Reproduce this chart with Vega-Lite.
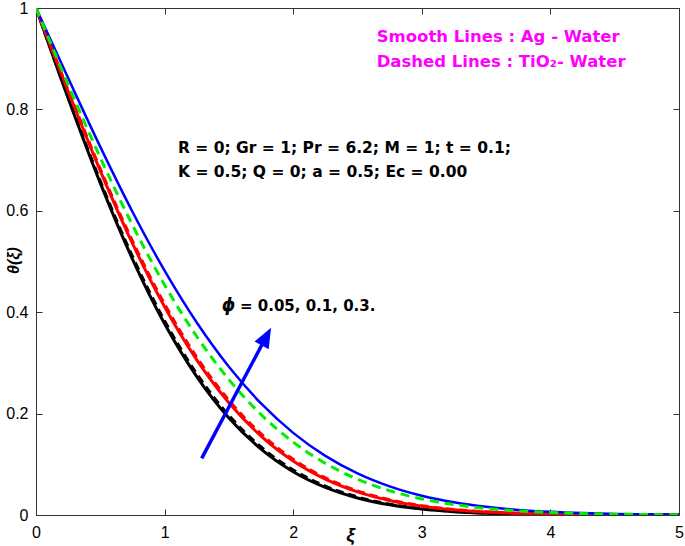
{
  "$schema": "https://vega.github.io/schema/vega-lite/v6.json",
  "width": 643,
  "height": 507,
  "autosize": "none",
  "padding": {"left": 36, "top": 8, "right": 6, "bottom": 31},
  "background": "white",
  "config": {
    "view": {"stroke": "#333333", "strokeWidth": 1},
    "axis": {
      "domainColor": "#333333",
      "domainWidth": 1,
      "tickColor": "#333333",
      "tickSize": -6,
      "grid": false,
      "labelFont": "Liberation Sans",
      "labelFontSize": 16,
      "labelColor": "#000000",
      "labelFlush": false,
      "labelOverlap": false
    }
  },
  "datasets": {
    "curves": [
      {"series":"bs","xi":0,"theta":1},{"series":"bs","xi":0.25,"theta":0.8221},{"series":"bs","xi":0.5,"theta":0.6546},{"series":"bs","xi":0.75,"theta":0.5049},{"series":"bs","xi":1,"theta":0.3772},{"series":"bs","xi":1.25,"theta":0.273},{"series":"bs","xi":1.5,"theta":0.1913},{"series":"bs","xi":1.75,"theta":0.1299},{"series":"bs","xi":2,"theta":0.0854},{"series":"bs","xi":2.25,"theta":0.0544},{"series":"bs","xi":2.5,"theta":0.0336},{"series":"bs","xi":2.75,"theta":0.0201},{"series":"bs","xi":3,"theta":0.0116},{"series":"bs","xi":3.25,"theta":0.0065},{"series":"bs","xi":3.5,"theta":0.0035},{"series":"bs","xi":3.75,"theta":0.0019},{"series":"bs","xi":4,"theta":0.0009},{"series":"bs","xi":4.5,"theta":0.0002},{"series":"bs","xi":5,"theta":0},
      {"series":"bd","xi":0,"theta":1},{"series":"bd","xi":0.25,"theta":0.8244},{"series":"bd","xi":0.5,"theta":0.6587},{"series":"bd","xi":0.75,"theta":0.5101},{"series":"bd","xi":1,"theta":0.3829},{"series":"bd","xi":1.25,"theta":0.2786},{"series":"bd","xi":1.5,"theta":0.1964},{"series":"bd","xi":1.75,"theta":0.1342},{"series":"bd","xi":2,"theta":0.0889},{"series":"bd","xi":2.25,"theta":0.0571},{"series":"bd","xi":2.5,"theta":0.0355},{"series":"bd","xi":2.75,"theta":0.0214},{"series":"bd","xi":3,"theta":0.0125},{"series":"bd","xi":3.25,"theta":0.0071},{"series":"bd","xi":3.5,"theta":0.0039},{"series":"bd","xi":3.75,"theta":0.0021},{"series":"bd","xi":4,"theta":0.0011},{"series":"bd","xi":4.5,"theta":0.0002},{"series":"bd","xi":5,"theta":0},
      {"series":"rs","xi":0,"theta":1},{"series":"rs","xi":0.25,"theta":0.8357},{"series":"rs","xi":0.5,"theta":0.6787},{"series":"rs","xi":0.75,"theta":0.5356},{"series":"rs","xi":1,"theta":0.4107},{"series":"rs","xi":1.25,"theta":0.3059},{"series":"rs","xi":1.5,"theta":0.2214},{"series":"rs","xi":1.75,"theta":0.1557},{"series":"rs","xi":2,"theta":0.1065},{"series":"rs","xi":2.25,"theta":0.0707},{"series":"rs","xi":2.5,"theta":0.0456},{"series":"rs","xi":2.75,"theta":0.0286},{"series":"rs","xi":3,"theta":0.0174},{"series":"rs","xi":3.25,"theta":0.0103},{"series":"rs","xi":3.5,"theta":0.0059},{"series":"rs","xi":3.75,"theta":0.0033},{"series":"rs","xi":4,"theta":0.0018},{"series":"rs","xi":4.25,"theta":0.0009},{"series":"rs","xi":4.5,"theta":0.0005},{"series":"rs","xi":5,"theta":0},
      {"series":"rd","xi":0,"theta":1},{"series":"rd","xi":0.25,"theta":0.838},{"series":"rd","xi":0.5,"theta":0.6826},{"series":"rd","xi":0.75,"theta":0.5405},{"series":"rd","xi":1,"theta":0.416},{"series":"rd","xi":1.25,"theta":0.3112},{"series":"rd","xi":1.5,"theta":0.2263},{"series":"rd","xi":1.75,"theta":0.16},{"series":"rd","xi":2,"theta":0.1099},{"series":"rd","xi":2.25,"theta":0.0734},{"series":"rd","xi":2.5,"theta":0.0477},{"series":"rd","xi":2.75,"theta":0.0301},{"series":"rd","xi":3,"theta":0.0184},{"series":"rd","xi":3.25,"theta":0.011},{"series":"rd","xi":3.5,"theta":0.0064},{"series":"rd","xi":3.75,"theta":0.0036},{"series":"rd","xi":4,"theta":0.002},{"series":"rd","xi":4.25,"theta":0.001},{"series":"rd","xi":4.5,"theta":0.0005},{"series":"rd","xi":5,"theta":0},
      {"series":"us","xi":0,"theta":1},{"series":"us","xi":0.25,"theta":0.8618},{"series":"us","xi":0.5,"theta":0.7261},{"series":"us","xi":0.75,"theta":0.5982},{"series":"us","xi":1,"theta":0.4819},{"series":"us","xi":1.25,"theta":0.3796},{"series":"us","xi":1.5,"theta":0.2923},{"series":"us","xi":1.75,"theta":0.22},{"series":"us","xi":2,"theta":0.162},{"series":"us","xi":2.25,"theta":0.1166},{"series":"us","xi":2.5,"theta":0.0821},{"series":"us","xi":2.75,"theta":0.0565},{"series":"us","xi":3,"theta":0.038},{"series":"us","xi":3.25,"theta":0.025},{"series":"us","xi":3.5,"theta":0.0161},{"series":"us","xi":3.75,"theta":0.0101},{"series":"us","xi":4,"theta":0.0062},{"series":"us","xi":4.25,"theta":0.0037},{"series":"us","xi":4.5,"theta":0.0022},{"series":"us","xi":4.75,"theta":0.0013},{"series":"us","xi":5,"theta":0.0007},
      {"series":"gd","xi":0,"theta":1},{"series":"gd","xi":0.25,"theta":0.849},{"series":"gd","xi":0.5,"theta":0.7047},{"series":"gd","xi":0.75,"theta":0.5719},{"series":"gd","xi":1,"theta":0.4538},{"series":"gd","xi":1.25,"theta":0.3521},{"series":"gd","xi":1.5,"theta":0.2671},{"series":"gd","xi":1.75,"theta":0.1982},{"series":"gd","xi":2,"theta":0.1437},{"series":"gd","xi":2.25,"theta":0.1019},{"series":"gd","xi":2.5,"theta":0.0707},{"series":"gd","xi":2.75,"theta":0.0479},{"series":"gd","xi":3,"theta":0.0317},{"series":"gd","xi":3.25,"theta":0.0206},{"series":"gd","xi":3.5,"theta":0.013},{"series":"gd","xi":3.75,"theta":0.0081},{"series":"gd","xi":4,"theta":0.0049},{"series":"gd","xi":4.25,"theta":0.0029},{"series":"gd","xi":4.5,"theta":0.0017},{"series":"gd","xi":4.75,"theta":0.001},{"series":"gd","xi":5,"theta":0.0005}
    ],
    "one": [{}]
  },
  "data": {"name": "curves"},
  "resolve": {"axis": {"x": "independent", "y": "independent"}},
  "layer": [
    {
      "transform": [{"filter": "datum.series === 'bs'"}],
      "mark": {"type": "line", "interpolate": "monotone", "color": "#000000", "strokeWidth": 3, "clip": true},
      "encoding": {
        "x": {"field": "xi", "type": "quantitative", "scale": {"domain": [0, 5], "nice": false, "zero": false},
          "axis": {"orient": "bottom", "values": [0,1,2,3,4,5], "format": "~g", "labelPadding": 15,
            "title": "ξ", "titleFont": "Liberation Sans", "titleFontSize": 19, "titleFontWeight": "bold", "titleFontStyle": "italic",
            "titleColor": "#000000", "titleX": 314, "titleY": 19, "titleBaseline": "middle", "titleAlign": "center"}},
        "y": {"field": "theta", "type": "quantitative", "scale": {"domain": [0, 1], "nice": false},
          "axis": {"orient": "left", "values": [0,0.2,0.4,0.6,0.8,1], "format": "~g", "labelPadding": 14,
            "title": "θ(ξ)", "titleFont": "Liberation Sans", "titleFontSize": 16, "titleFontWeight": "bold", "titleFontStyle": "italic",
            "titleColor": "#000000", "titleX": -23, "titleY": 252, "titleBaseline": "middle", "titleAlign": "center", "titleAngle": -90}}
      }
    },
    {
      "transform": [{"filter": "datum.series === 'bd'"}],
      "mark": {"type": "line", "interpolate": "monotone", "color": "#000000", "strokeWidth": 3, "strokeDash": [8, 5], "clip": true},
      "encoding": {
        "x": {"field": "xi", "type": "quantitative", "scale": {"domain": [0, 5], "nice": false, "zero": false},
          "axis": {"orient": "top", "values": [0,1,2,3,4,5], "labels": false, "title": null}},
        "y": {"field": "theta", "type": "quantitative", "scale": {"domain": [0, 1], "nice": false},
          "axis": {"orient": "right", "values": [0,0.2,0.4,0.6,0.8,1], "labels": false, "title": null}}
      }
    },
    {
      "transform": [{"filter": "datum.series === 'rs'"}],
      "mark": {"type": "line", "interpolate": "monotone", "color": "#ff0000", "strokeWidth": 3, "clip": true},
      "encoding": {
        "x": {"field": "xi", "type": "quantitative", "axis": null},
        "y": {"field": "theta", "type": "quantitative", "axis": null}
      }
    },
    {
      "transform": [{"filter": "datum.series === 'rd'"}],
      "mark": {"type": "line", "interpolate": "monotone", "color": "#ff0000", "strokeWidth": 3, "strokeDash": [8, 5], "clip": true},
      "encoding": {
        "x": {"field": "xi", "type": "quantitative", "axis": null},
        "y": {"field": "theta", "type": "quantitative", "axis": null}
      }
    },
    {
      "transform": [{"filter": "datum.series === 'us'"}],
      "mark": {"type": "line", "interpolate": "monotone", "color": "#0000ff", "strokeWidth": 2.5, "clip": true},
      "encoding": {
        "x": {"field": "xi", "type": "quantitative", "axis": null},
        "y": {"field": "theta", "type": "quantitative", "axis": null}
      }
    },
    {
      "transform": [{"filter": "datum.series === 'gd'"}],
      "mark": {"type": "line", "interpolate": "monotone", "color": "#00ee00", "strokeWidth": 3, "strokeDash": [9, 6], "clip": true},
      "encoding": {
        "x": {"field": "xi", "type": "quantitative", "axis": null},
        "y": {"field": "theta", "type": "quantitative", "axis": null}
      }
    },
    {
      "data": {"name": "one"},
      "mark": {"type": "rule", "color": "#0000ff", "strokeWidth": 3.5},
      "encoding": {
        "x": {"datum": 1.2885, "type": "quantitative", "axis": null},
        "y": {"datum": 0.1118, "type": "quantitative", "axis": null},
        "x2": {"datum": 1.765},
        "y2": {"datum": 0.3398}
      }
    },
    {
      "data": {"name": "one"},
      "mark": {"type": "point", "shape": "M0,-1L0.667,0.667L-0.667,0.667Z", "filled": true, "color": "#0000ff", "opacity": 1, "size": 576, "angle": 28, "strokeWidth": 0},
      "encoding": {
        "x": {"datum": 1.7838, "type": "quantitative", "axis": null},
        "y": {"datum": 0.3485, "type": "quantitative", "axis": null}
      }
    },
    {
      "data": {"name": "one"},
      "mark": {"type": "text", "align": "left", "baseline": "middle", "font": "DejaVu Sans", "fontWeight": "bold", "fontSize": 16.5, "color": "#ff00ff"},
      "encoding": {
        "x": {"datum": 2.649, "type": "quantitative", "axis": null},
        "y": {"datum": 0.9428, "type": "quantitative", "axis": null},
        "text": {"value": "Smooth Lines : Ag - Water"}
      }
    },
    {
      "data": {"name": "one"},
      "mark": {"type": "text", "align": "left", "baseline": "middle", "font": "DejaVu Sans", "fontWeight": "bold", "fontSize": 16.5, "color": "#ff00ff"},
      "encoding": {
        "x": {"datum": 2.649, "type": "quantitative", "axis": null},
        "y": {"datum": 0.894, "type": "quantitative", "axis": null},
        "text": {"value": "Dashed Lines : TiO₂- Water"}
      }
    },
    {
      "data": {"name": "one"},
      "mark": {"type": "text", "align": "left", "baseline": "middle", "font": "DejaVu Sans", "fontWeight": "bold", "fontSize": 15.5, "color": "#000000"},
      "encoding": {
        "x": {"datum": 1.104, "type": "quantitative", "axis": null},
        "y": {"datum": 0.724, "type": "quantitative", "axis": null},
        "text": {"value": "R = 0; Gr = 1; Pr = 6.2; M = 1; t = 0.1;"}
      }
    },
    {
      "data": {"name": "one"},
      "mark": {"type": "text", "align": "left", "baseline": "middle", "font": "DejaVu Sans", "fontWeight": "bold", "fontSize": 15.5, "color": "#000000"},
      "encoding": {
        "x": {"datum": 1.104, "type": "quantitative", "axis": null},
        "y": {"datum": 0.677, "type": "quantitative", "axis": null},
        "text": {"value": "K = 0.5; Q = 0; a = 0.5; Ec = 0.00"}
      }
    },
    {
      "data": {"name": "one"},
      "mark": {"type": "text", "align": "left", "baseline": "middle", "font": "DejaVu Sans", "fontWeight": "bold", "fontStyle": "italic", "fontSize": 17, "color": "#000000"},
      "encoding": {
        "x": {"datum": 1.444, "type": "quantitative", "axis": null},
        "y": {"datum": 0.4128, "type": "quantitative", "axis": null},
        "text": {"value": "ϕ"}
      }
    },
    {
      "data": {"name": "one"},
      "mark": {"type": "text", "align": "left", "baseline": "middle", "font": "DejaVu Sans", "fontWeight": "bold", "fontSize": 15, "color": "#000000"},
      "encoding": {
        "x": {"datum": 1.586, "type": "quantitative", "axis": null},
        "y": {"datum": 0.4128, "type": "quantitative", "axis": null},
        "text": {"value": "= 0.05, 0.1, 0.3."}
      }
    }
  ]
}
